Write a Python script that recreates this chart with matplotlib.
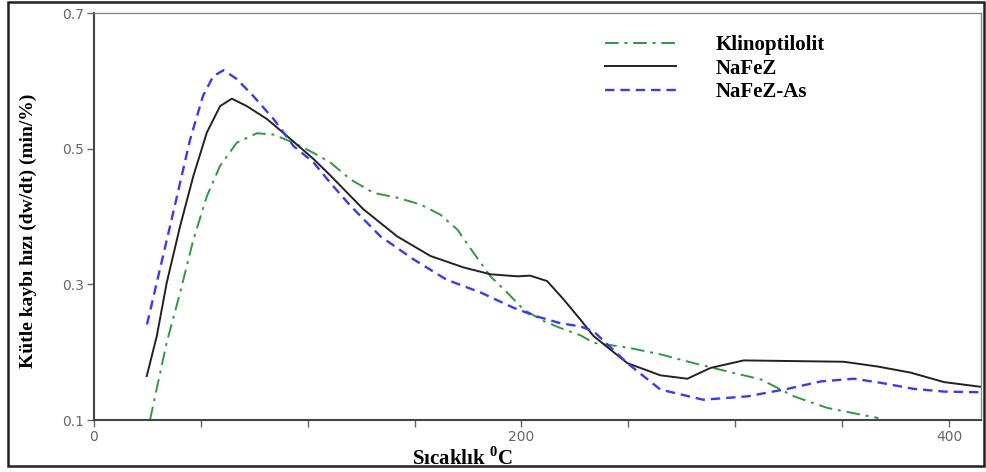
import matplotlib
matplotlib.use('Agg')
from matplotlib import pyplot as plt
from matplotlib.patches import Rectangle

plt.rcParams['mathtext.fontset'] = 'custom'
plt.rcParams['mathtext.rm'] = 'Liberation Serif'
plt.rcParams['mathtext.bf'] = 'Liberation Serif:bold'

# Klinoptilolit
klino_x = [26.2, 34, 40.3, 46.5, 52.8, 59, 66.8, 76.2, 84, 93.4, 102.7, 110.5, 120, 130.8, 141.8, 152.7,
           162, 170, 177.5, 185.5, 193.3, 201, 210.4, 218, 227.6, 233.7, 249.5, 265, 280.6, 296, 312,
           327.5, 343, 358.8, 367]
klino_y = [0.1, 0.214, 0.288, 0.366, 0.43, 0.475, 0.509, 0.523, 0.521, 0.509, 0.494, 0.48, 0.455, 0.435,
           0.428, 0.418, 0.403, 0.381, 0.347, 0.312, 0.288, 0.263, 0.246, 0.236, 0.225, 0.214, 0.207,
           0.197, 0.184, 0.172, 0.160, 0.135, 0.118, 0.108, 0.103]

# NaFeZ
nafez_x = [24.7, 29.4, 34, 40.3, 46.5, 52.8, 59, 64.5, 71.5, 80.9, 90.3, 102.7, 110.5, 126, 141.8, 157.4,
           173, 185.5, 198, 204, 212, 219.7, 227.6, 233.7, 249.5, 265, 277.6, 288.5, 304, 327.4, 350.8,
           366.6, 382, 397.7, 415]
nafez_y = [0.165, 0.224, 0.302, 0.386, 0.46, 0.524, 0.563, 0.574, 0.563, 0.544, 0.519, 0.485, 0.461,
           0.411, 0.371, 0.342, 0.325, 0.315, 0.312, 0.313, 0.305, 0.278, 0.248, 0.224, 0.184, 0.166,
           0.161, 0.177, 0.188, 0.187, 0.186, 0.179, 0.170, 0.156, 0.149]

# NaFeZ-As
nafezas_x = [24.8, 29.4, 35.6, 40.3, 45, 51, 55.8, 60.6, 66.8, 74.5, 84, 93.4, 102.7, 110.5, 120, 134,
             149.5, 165, 181, 196, 207, 218, 227.6, 233.7, 249.5, 265, 285, 305.7, 324.4, 340, 355.5,
             368, 383.6, 397.7, 415]
nafezas_y = [0.241, 0.303, 0.386, 0.45, 0.514, 0.578, 0.607, 0.616, 0.603, 0.578, 0.544, 0.504, 0.48,
             0.45, 0.416, 0.371, 0.337, 0.307, 0.288, 0.266, 0.253, 0.243, 0.238, 0.231, 0.184, 0.145,
             0.130, 0.135, 0.146, 0.157, 0.161, 0.155, 0.146, 0.142, 0.141]

fig = plt.figure(figsize=(9.86, 4.72), dpi=100)
ax = fig.add_axes([0.0953, 0.110, 0.8997, 0.862])

ax.plot(klino_x, klino_y, color='#2e9a3a', linestyle='-.', linewidth=1.4, dashes=(7, 3, 1.5, 3),
        label='Klinoptilolit')
ax.plot(nafez_x, nafez_y, color='#222222', linestyle='-', linewidth=1.4, label='NaFeZ')
ax.plot(nafezas_x, nafezas_y, color='#3a3aee', linestyle='--', linewidth=1.7, dashes=(4, 2.5),
        label='NaFeZ-As')

ax.set_xlim(0, 415)
ax.set_ylim(0.1, 0.7)
ax.set_xticks(range(0, 416, 50))
ax.set_xticklabels(['0', '', '', '', '200', '', '', '', '400'])
ax.set_yticks([0.1, 0.3, 0.5, 0.7])
ax.set_yticklabels(['0.1', '0.3', '0.5', '0.7'])
ax.tick_params(direction='out', length=5, width=1, pad=2, colors='#666666', labelsize=10,
               labelcolor='#666666')

for side in ['left', 'bottom']:
    ax.spines[side].set_linewidth(1.5)
    ax.spines[side].set_color('#444444')
for side in ['top', 'right']:
    ax.spines[side].set_linewidth(1)
    ax.spines[side].set_color('#888888')

ax.set_ylabel('Kütle kaybı hızı (dw/dt) (min/%)', family='Liberation Serif', fontweight='bold',
              fontsize=14)
ax.yaxis.set_label_coords(-0.064, 0.465)
ax.set_xlabel(r'Sıcaklık $^{\mathbf{0}}$C', family='Liberation Serif', fontweight='bold',
              fontsize=15)
ax.xaxis.set_label_coords(0.415, -0.066)

ax.legend(loc='upper left', bbox_to_anchor=(0.555, 0.993), frameon=False, handlelength=3.4,
          handletextpad=1.9, labelspacing=0.18,
          prop={'family': 'Liberation Serif', 'weight': 'bold', 'size': 15})

fig.patches.append(Rectangle((0.008, 0.012), 0.99, 0.984, transform=fig.transFigure,
                             fill=False, edgecolor='#222222', linewidth=1.8))

plt.savefig('out.png')
